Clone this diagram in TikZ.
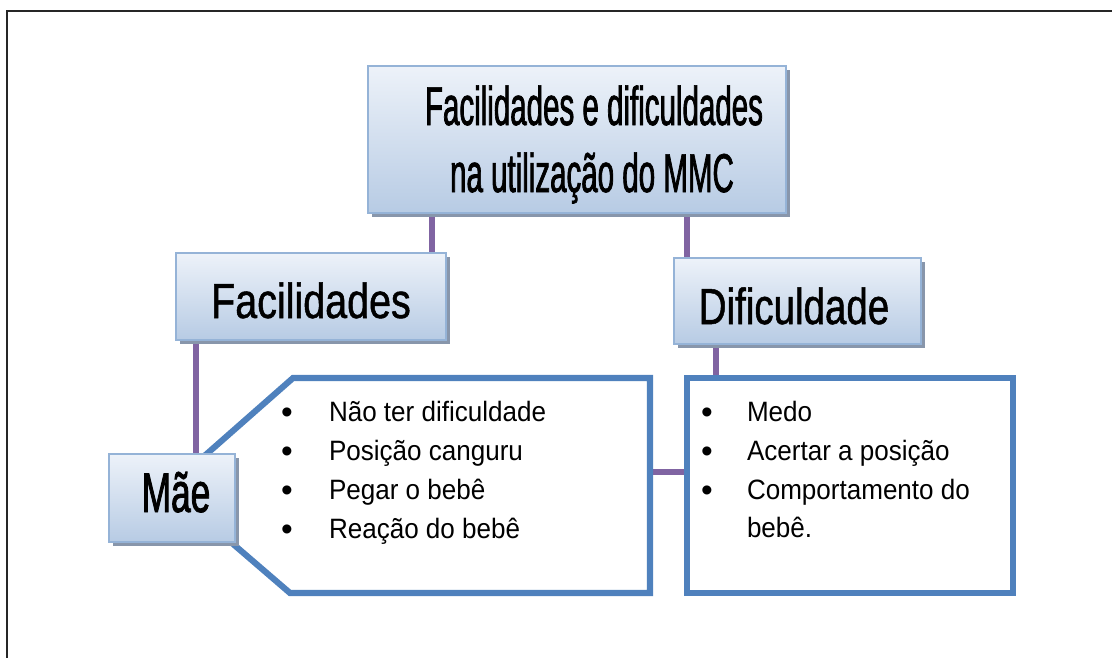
\documentclass[tikz,border=0pt]{standalone}
\usepackage{fontspec}
\setmainfont{Liberation Sans}
\newfontfamily\titlefont[FakeStretch=0.54,FakeBold=1.3]{Liberation Sans}
\newfontfamily\facfont[FakeStretch=0.8,FakeBold=1]{Liberation Sans}
\newfontfamily\diffont[FakeStretch=0.76,FakeBold=1]{Liberation Sans}
\newfontfamily\maefont[FakeStretch=0.63,FakeBold=1.5]{Liberation Sans}
\newfontfamily\listfont[FakeStretch=0.93]{Liberation Sans}
\usetikzlibrary{shadows,fit,calc}
\definecolor{boxtop}{HTML}{EDF2F9}
\definecolor{boxbot}{HTML}{B7CBE4}
\definecolor{boxedge}{HTML}{95B3D7}
\definecolor{shadowc}{HTML}{8896AB}
\definecolor{calloutblue}{HTML}{4F81BD}
\definecolor{linkpurple}{HTML}{8064A2}
\pgfdeclarelayer{bg}
\pgfsetlayers{bg,main}
\begin{document}
\begin{tikzpicture}[x=0.75pt,y=-0.75pt,
  every node/.style={outer sep=0pt},
  box/.style={rectangle, draw=boxedge, line width=1.5pt, top color=boxtop, bottom color=boxbot, inner sep=0pt,
    drop shadow={shadow xshift=3pt, shadow yshift=-3pt, fill=shadowc, opacity=1}},
  link/.style={draw=linkpurple, line width=3.9pt},
  blueline/.style={draw=calloutblue, line width=4.6pt, line join=miter},
  txt/.style={inner sep=0pt, anchor=base},
  item/.style={inner sep=0pt, anchor=base west, font=\listfont\fontsize{21}{25}\selectfont},
  bul/.style={inner sep=0pt, anchor=base, font=\fontsize{25}{25}\selectfont}]
\useasboundingbox (0,0) rectangle (1112,657);
\begin{scope}
  \clip (0,0) rectangle (1112,657);
  \draw[line width=1.7pt, black!85] (7,11) rectangle (1140,690);
\end{scope}

% boxes
\node[box, fit={(368,66) (786,213)}] (title) {};
\node[box, fit={(176,253) (446,340)}] (fac) {};
\node[box, fit={(674,258) (921,344)}] (dif) {};

% callout around the mother's list
\coordinate (c1) at (293,378);
\coordinate (c2) at (650,378);
\coordinate (c3) at (650,593);
\coordinate (c4) at (290,593);
\coordinate (c5) at (168,488);
\draw[blueline, fill=white] (c1) -- (c2) -- (c3) -- (c4) -- (c5) -- cycle;
\node[inner sep=0pt, fit={(c1) (c3)}] (listL) {};
\node[blueline, fill=white, inner sep=0pt, fit={(687,378) (1013,593)}] (listR) {};

\node[box, fit={(109,454) (235,542)}] (mae) {};

% connectors
\begin{pgfonlayer}{bg}
\draw[link] ($(title.south west)+(64,0)$) -- ($(fac.north west)+(256,0)$);
\draw[link] ($(title.south west)+(319,0)$) -- ($(dif.north west)+(13,0)$);
\draw[link] ($(fac.south west)+(20,0)$) -- ($(mae.north west)+(87,0)$);
\draw[link] ($(dif.south west)+(42,0)$) -- ($(listR.north west)+(29,0)$);
\draw[link] ($(listL.south east)+(0,-121)$) -- ($(listR.south west)+(0,-121)$);
\end{pgfonlayer}

% texts
\node[txt, font=\titlefont\fontsize{41}{41}\selectfont] (t1) at (594,125) {Facilidades e dificuldades};
\node[txt, font=\titlefont\fontsize{41}{41}\selectfont] (t2) at (592,192) {na utilização do MMC};
\node[txt, font=\facfont\fontsize{37}{37}\selectfont] (tfac) at (311,318) {Facilidades};
\node[txt, font=\diffont\fontsize{38}{38}\selectfont] (tdif) at (794,324) {Dificuldade};
\node[txt, font=\maefont\fontsize{42}{42}\selectfont] (tmae) at (176,512) {Mãe};

\node[bul] (b1) at (287,423) {•};
\node[bul] (b2) at (287,462) {•};
\node[bul] (b3) at (287,501) {•};
\node[bul] (b4) at (287,540) {•};
\node[item] (l1) at (329,421) {Não ter dificuldade};
\node[item] (l2) at (329,460) {Posição canguru};
\node[item] (l3) at (329,499) {Pegar o bebê};
\node[item] (l4) at (329,538) {Reação do bebê};

\node[bul] (r1b) at (707,423) {•};
\node[bul] (r2b) at (707,462) {•};
\node[bul] (r3b) at (707,501) {•};
\node[item] (r1) at (747,421) {Medo};
\node[item] (r2) at (747,460) {Acertar a posição};
\node[item] (r3) at (747,499) {Comportamento do};
\node[item] (r4) at (747,537) {bebê.};
\end{tikzpicture}
\end{document}
